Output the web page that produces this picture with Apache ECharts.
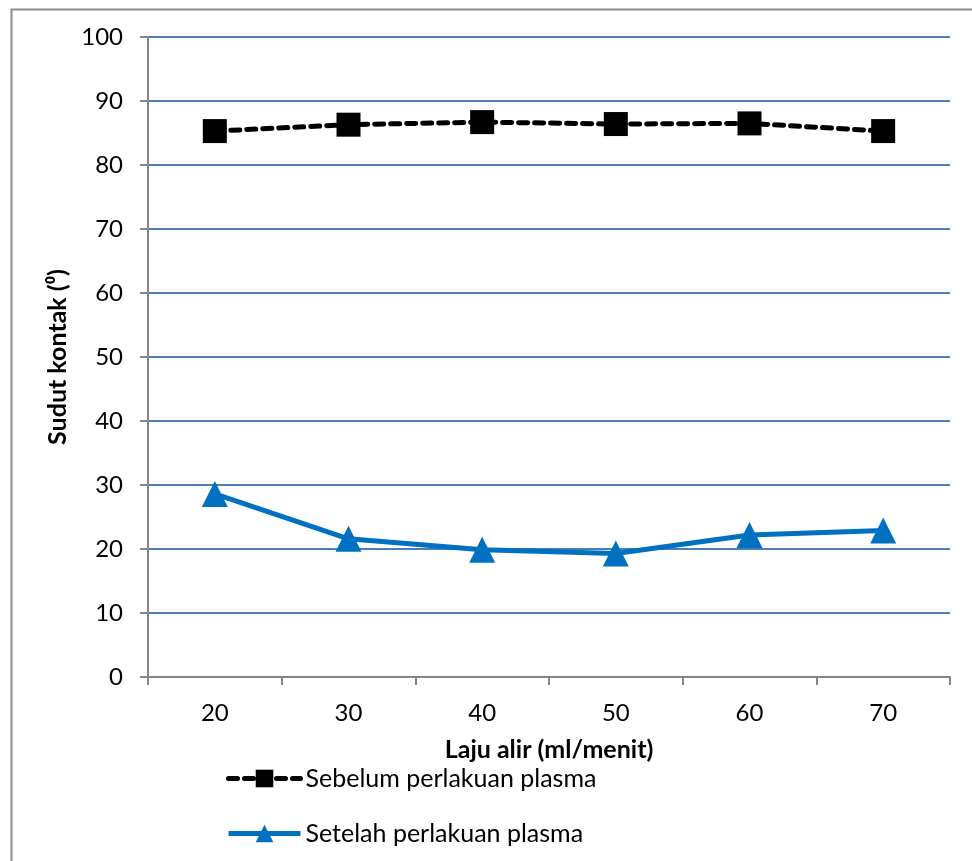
<!DOCTYPE html>
<html>
<head>
<meta charset="utf-8">
<script src="https://cdn.jsdelivr.net/npm/echarts@6/dist/echarts.min.js"></script>
<style>
html,body{margin:0;padding:0;background:#fff;}
#chart{width:972px;height:861px;}
</style>
</head>
<body>
<div id="chart"></div>
<script>
const categories = ['20', '30', '40', '50', '60', '70'];
const sebelum = [85.3, 86.3, 86.7, 86.4, 86.5, 85.3];
const setelah = [28.6, 21.6, 19.9, 19.3, 22.2, 22.9];
const seriesNames = ['Sebelum perlakuan plasma', 'Setelah perlakuan plasma'];
const xTitle = 'Laju alir (ml/menit)';
const yTitle = 'Sudut kontak (\u2070)';

const FONT = 'Lato, "Open Sans", sans-serif';
const chart = echarts.init(document.getElementById('chart'), null, {renderer: 'canvas'});
chart.setOption({
  backgroundColor: '#ffffff',
  animation: false,
  graphic: [{
    type: 'rect', left: 9, top: 7, shape: {width: 1000, height: 900},
    style: {fill: 'none', stroke: '#8c8c8c', lineWidth: 2}, silent: true, z: -1
  }],
  grid: {left: 148, right: 22, top: 37, bottom: 184},
  legend: {
    orient: 'vertical', left: 221, top: 761,
    itemWidth: 72, itemHeight: 22, itemGap: 30,
    textStyle: {fontFamily: FONT, fontSize: 25, color: '#000'},
    data: [
      {name: seriesNames[0], lineStyle: {width: 5, type: [9, 7], cap: 'round'}},
      {name: seriesNames[1], lineStyle: {width: 5}}
    ]
  },
  xAxis: {
    type: 'category', data: categories, boundaryGap: true,
    name: xTitle, nameLocation: 'middle', nameGap: 60,
    nameTextStyle: {fontFamily: FONT, fontSize: 25, fontWeight: 'bold', color: '#000'},
    axisLine: {lineStyle: {color: '#868686', width: 2}},
    axisTick: {show: true, length: 8, alignWithLabel: false, lineStyle: {color: '#868686', width: 2}},
    axisLabel: {fontFamily: FONT, fontSize: 24, color: '#000', margin: 24},
    splitLine: {show: false}
  },
  yAxis: {
    type: 'value', min: 0, max: 100, interval: 10,
    name: yTitle, nameLocation: 'middle', nameGap: 78, nameRotate: 90,
    nameTextStyle: {fontFamily: FONT, fontSize: 25, fontWeight: 'bold', color: '#000'},
    axisLine: {show: true, lineStyle: {color: '#868686', width: 2}},
    axisTick: {show: true, length: 8, lineStyle: {color: '#868686', width: 2}},
    axisLabel: {fontFamily: FONT, fontSize: 24, color: '#000', margin: 25},
    splitLine: {show: true, lineStyle: {color: '#4a7ebb', width: 2}}
  },
  series: [
    {
      name: seriesNames[0], type: 'line', data: sebelum,
      symbol: 'rect', symbolSize: 24,
      itemStyle: {color: '#000000'},
      lineStyle: {color: '#000000', width: 5, type: [9, 7], cap: 'round'},
      z: 3
    },
    {
      name: seriesNames[1], type: 'line', data: setelah,
      symbol: 'triangle', symbolSize: 26,
      itemStyle: {color: '#0070c0'},
      lineStyle: {color: '#0070c0', width: 5},
      z: 3
    }
  ]
});
</script>
</body>
</html>
